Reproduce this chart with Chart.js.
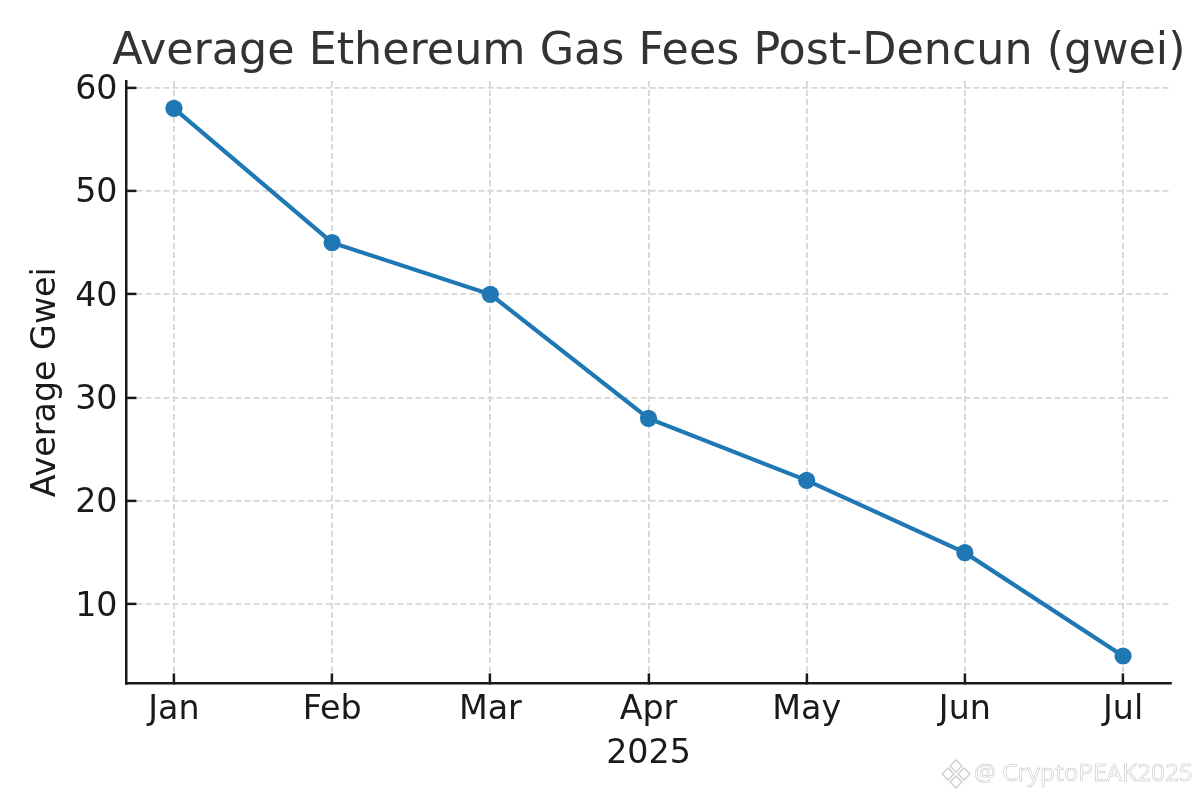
<!DOCTYPE html>
<html>
<head>
<meta charset="utf-8">
<style>
    html, body { margin: 0; padding: 0; background: #ffffff; }
    #wrap { position: relative; width: 1200px; height: 800px; overflow: hidden; }
    #mark { position: absolute; left: 974px; top: 755px; font: 24.3px "Noto Sans"; color: #ffffff;
        -webkit-text-stroke: 0.5px #bdbdbd; white-space: nowrap; }
    #logo { position: absolute; left: 941px; top: 759px; }
</style>
<script src="https://cdn.jsdelivr.net/npm/chart.js@4"></script>
</head>
<body>
<div id="wrap">
    <canvas id="gasChart" width="1200" height="800"></canvas>
    <svg id="logo" width="30" height="30" viewBox="0 0 30 30" fill="#ffffff" stroke="#d0d0d0" stroke-width="1.5">
        <path d="M15 1 L21 7 L15 13 L9 7 Z"/>
        <path d="M7 9 L13 15 L7 21 L1 15 Z"/>
        <path d="M23 9 L29 15 L23 21 L17 15 Z"/>
        <path d="M15 17 L21 23 L15 29 L9 23 Z"/>
    </svg>
    <div id="mark">@ CryptoPEAK2025</div>
</div>
<script>
var months = ['Jan', 'Feb', 'Mar', 'Apr', 'May', 'Jun', 'Jul'];
var avgGwei = [58, 45, 40, 28, 22, 15, 5];
var yTicks = [10, 20, 30, 40, 50, 60];

var inkColor = '#1a1a1a';
var gridColor = '#d6d6d6';
var labelFont = { family: 'DejaVu Sans', size: 33.3 };

// x is a linear scale so the side margins can stay narrower than a category band
var points = months.map(function (m, i) {
    return { x: i, y: avgGwei[i] };
});

new Chart(document.getElementById('gasChart'), {
    type: 'line',
    data: {
        datasets: [{
            label: 'Average Gwei',
            data: points,
            borderColor: '#1f77b4',
            backgroundColor: '#1f77b4',
            borderWidth: 4.2,
            pointRadius: 8.6,
            pointBorderWidth: 0,
            pointHoverRadius: 8.6,
            tension: 0
        }]
    },
    options: {
        responsive: false,
        animation: false,
        // title runs past the plot on the right, so the plot inset comes from the x axis
        layout: { padding: { left: 0, right: 14.5, top: 0, bottom: 0 } },
        plugins: {
            legend: { display: false },
            tooltip: { enabled: false },
            title: {
                display: true,
                align: 'end',
                text: 'Average Ethereum Gas Fees Post-Dencun (gwei)',
                color: '#333333',
                font: { family: 'DejaVu Sans', size: 44.4, weight: 'normal' },
                padding: { top: 26, bottom: 1.7 }
            }
        },
        scales: {
            x: {
                type: 'linear',
                min: -0.3,
                max: 6.3,
                afterBuildTicks: function (axis) {
                    axis.ticks = months.map(function (m, i) { return { value: i }; });
                },
                afterFit: function (axis) {
                    axis.height = 116.6;
                    axis.paddingRight = 29.5;
                },
                title: { display: true, text: '2025', color: inkColor, font: labelFont, padding: { top: 0, bottom: 26 } },
                grid: { color: gridColor, lineWidth: 1.8, tickColor: inkColor, tickLength: -10, tickWidth: 2.5, tickBorderDash: [] },
                border: { display: true, color: inkColor, width: 2.5, dash: [6, 3] },
                ticks: {
                    color: inkColor, font: labelFont, padding: 17, maxRotation: 0,
                    callback: function (value) { return months[value]; }
                }
            },
            y: {
                min: 2.35,
                max: 60.65,
                afterBuildTicks: function (axis) {
                    axis.ticks = yTicks.map(function (v) { return { value: v }; });
                },
                afterFit: function (axis) { axis.width = 126.5; },
                title: { display: true, text: 'Average Gwei', color: inkColor, font: labelFont, padding: { top: 26, bottom: 0 } },
                grid: { color: gridColor, lineWidth: 1.8, tickColor: inkColor, tickLength: -10, tickWidth: 2.5, tickBorderDash: [] },
                border: { display: true, color: inkColor, width: 2.5, dash: [6, 3] },
                ticks: { color: inkColor, font: labelFont, padding: 19, labelOffset: 2.5 }
            }
        }
    }
});
</script>
</body>
</html>
